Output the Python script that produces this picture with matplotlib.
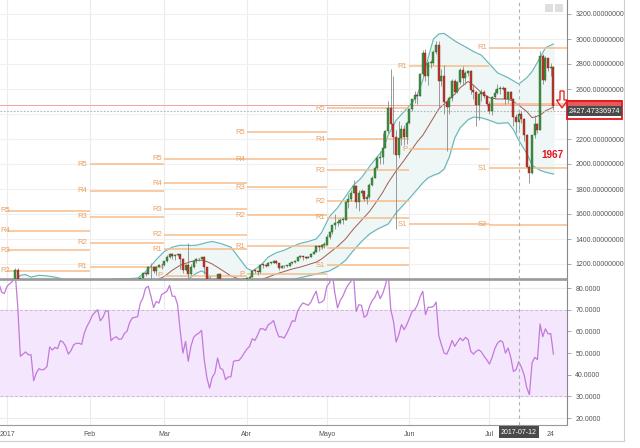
import numpy as np
import pandas as pd
import matplotlib
matplotlib.use("Agg")
import matplotlib.pyplot as plt
import matplotlib.dates as mdates
from matplotlib.patches import Rectangle, Polygon
from matplotlib.lines import Line2D

plt.rcParams['font.family'] = ['Liberation Sans', 'DejaVu Sans']

# daily candles, first one is 2017-01-01
opens = [964, 998, 1021, 1043, 1154, 1013, 902, 908, 911, 902,
         907, 785, 812, 826, 818, 822, 831, 907, 862, 899,
         895, 921, 925, 921, 892, 895, 918, 919, 921, 914,
         920, 970, 989, 1011, 1029, 1045, 1015, 1024, 1052, 1054,
         978, 996, 1008, 999, 996, 1010, 1010, 1036, 1054, 1055,
         1052, 1090, 1124, 1122, 1176, 1173, 1146, 1179, 1193, 1188,
         1222, 1255, 1283, 1265, 1273, 1277, 1236, 1150, 1188, 1116,
         1176, 1222, 1237, 1243, 1253, 1172, 1071, 971, 1022, 1047,
         1117, 1044, 1041, 938, 966, 964, 1043, 1046, 1039, 1036,
         1079, 1086, 1097, 1143, 1142, 1133, 1193, 1190, 1182, 1207,
         1208, 1223, 1205, 1171, 1180, 1185, 1187, 1204, 1215, 1223,
         1254, 1261, 1259, 1251, 1258, 1280, 1298, 1345, 1333, 1352,
         1354, 1418, 1452, 1508, 1526, 1526, 1555, 1555, 1697, 1720,
         1771, 1826, 1693, 1771, 1780, 1723, 1734, 1830, 1891, 1970,
         2050, 2053, 2129, 2262, 2444, 2323, 2217, 2071, 2209, 2282,
         2213, 2330, 2437, 2517, 2550, 2543, 2719, 2889, 2704, 2807,
         2808, 2895, 2950, 2662, 2703, 2499, 2456, 2529, 2664, 2575,
         2653, 2753, 2691, 2731, 2745, 2593, 2572, 2474, 2561, 2575,
         2541, 2481, 2424, 2535, 2567, 2601, 2602, 2608, 2519, 2572,
         2519, 2373, 2337, 2398, 2357, 2234, 1976, 1925, 2229, 2318,
         2274, 2860, 2673, 2849, 2768, 2775]
highs = [1001, 1031, 1044, 1165, 1170, 1046, 909, 942, 916, 911,
         918, 829, 835, 837, 826, 838, 912, 915, 904, 900,
         928, 937, 928, 924, 902, 918, 921, 922, 921, 922,
         972, 990, 1013, 1034, 1045, 1046, 1027, 1055, 1075, 1060,
         1000, 1012, 1010, 1003, 1013, 1012, 1040, 1062, 1072, 1058,
         1095, 1130, 1135, 1180, 1210, 1178, 1182, 1198, 1210, 1226,
         1272, 1290, 1285, 1278, 1282, 1280, 1245, 1200, 1370, 1200,
         1230, 1245, 1248, 1256, 1260, 1175, 1100, 1056, 1055, 1120,
         1125, 1060, 1045, 980, 1000, 1047, 1062, 1060, 1050, 1085,
         1097, 1110, 1150, 1160, 1145, 1200, 1200, 1200, 1215, 1215,
         1228, 1228, 1210, 1190, 1195, 1190, 1210, 1218, 1230, 1258,
         1268, 1265, 1265, 1262, 1285, 1310, 1350, 1355, 1356, 1372,
         1440, 1460, 1515, 1600, 1560, 1565, 1575, 1700, 1760, 1790,
         1870, 1830, 1790, 1800, 1785, 1760, 1845, 1905, 1980, 2060,
         2100, 2250, 2275, 2500, 2760, 2700, 2272, 2340, 2315, 2310,
         2340, 2450, 2520, 2580, 2560, 2730, 2910, 2920, 2820, 2830,
         2910, 2985, 2980, 2760, 2790, 2510, 2540, 2680, 2680, 2660,
         2770, 2780, 2740, 2750, 2750, 2640, 2580, 2570, 2600, 2590,
         2545, 2500, 2540, 2600, 2640, 2620, 2620, 2610, 2580, 2580,
         2530, 2400, 2420, 2420, 2370, 2240, 1990, 2235, 2390, 2330,
         2900, 2880, 2860, 2850, 2810, 2780]
lows = [956, 990, 1017, 1037, 890, 883, 826, 886, 883, 890,
        755, 744, 776, 808, 806, 818, 831, 847, 862, 880,
        895, 887, 913, 882, 886, 894, 911, 915, 910, 912,
        918, 963, 982, 1008, 1015, 1007, 1011, 1022, 1030, 940,
        955, 990, 995, 975, 993, 1003, 1009, 1034, 1052, 1040,
        1050, 1088, 1100, 1120, 1080, 1130, 1110, 1176, 1160, 1185,
        1218, 1250, 1240, 1235, 1262, 1160, 1130, 1145, 980, 1110,
        1170, 1210, 1220, 1240, 1120, 1050, 940, 970, 1015, 1045,
        1000, 1030, 930, 890, 950, 960, 1030, 1015, 1025, 1036,
        1075, 1080, 1095, 1125, 1110, 1130, 1170, 1175, 1180, 1200,
        1205, 1200, 1155, 1165, 1170, 1175, 1180, 1200, 1205, 1220,
        1245, 1230, 1240, 1245, 1255, 1278, 1298, 1300, 1320, 1330,
        1350, 1400, 1440, 1480, 1500, 1520, 1520, 1555, 1650, 1700,
        1771, 1650, 1620, 1740, 1700, 1680, 1720, 1820, 1885, 1960,
        2000, 2000, 2125, 2250, 2290, 2080, 1480, 2050, 2150, 2150,
        2160, 2320, 2420, 2490, 2480, 2540, 2710, 2660, 2630, 2770,
        2790, 2880, 2450, 2620, 2400, 2100, 2400, 2500, 2560, 2570,
        2640, 2630, 2640, 2700, 2560, 2520, 2300, 2350, 2500, 2530,
        2460, 2400, 2390, 2520, 2560, 2560, 2590, 2480, 2490, 2510,
        2300, 2250, 2280, 2330, 2180, 1975, 1845, 1920, 2210, 2250,
        2270, 2640, 2660, 2740, 2700, 2430]
closes = [998, 1021, 1043, 1154, 1013, 902, 908, 911, 902, 907,
          785, 812, 826, 818, 822, 831, 907, 862, 899, 895,
          921, 925, 921, 892, 895, 918, 919, 921, 914, 920,
          970, 989, 1011, 1029, 1045, 1015, 1024, 1052, 1054, 978,
          996, 1008, 999, 996, 1010, 1010, 1036, 1054, 1055, 1052,
          1090, 1124, 1122, 1176, 1173, 1146, 1179, 1193, 1188, 1222,
          1255, 1283, 1265, 1273, 1277, 1236, 1150, 1188, 1116, 1176,
          1222, 1237, 1243, 1253, 1172, 1071, 971, 1022, 1047, 1117,
          1044, 1041, 938, 966, 964, 1043, 1046, 1039, 1036, 1079,
          1086, 1097, 1143, 1142, 1133, 1193, 1190, 1182, 1207, 1208,
          1223, 1205, 1171, 1180, 1185, 1187, 1204, 1215, 1223, 1254,
          1261, 1259, 1251, 1258, 1280, 1298, 1345, 1333, 1352, 1354,
          1418, 1452, 1508, 1526, 1526, 1555, 1555, 1697, 1720, 1771,
          1826, 1693, 1771, 1780, 1723, 1734, 1830, 1891, 1970, 2050,
          2053, 2129, 2262, 2444, 2323, 2217, 2071, 2209, 2282, 2213,
          2330, 2437, 2517, 2550, 2543, 2719, 2889, 2704, 2807, 2808,
          2895, 2950, 2662, 2703, 2499, 2456, 2529, 2664, 2575, 2653,
          2753, 2691, 2731, 2745, 2593, 2572, 2474, 2561, 2575, 2541,
          2481, 2424, 2535, 2567, 2601, 2602, 2608, 2519, 2572, 2519,
          2373, 2337, 2398, 2357, 2234, 1976, 1925, 2229, 2318, 2274,
          2860, 2673, 2849, 2768, 2775, 2460]

# bollinger bands (day offsets from 2017-01-01)
bb_days = [-3, 0, 3, 5, 7, 9, 12, 15, 18, 20, 22, 25, 28, 31, 34, 37, 40, 43, 46, 49,
           51, 53, 56, 59, 62, 65, 67, 69, 71, 73, 75, 77, 80, 84, 87, 90, 92, 95, 98, 101,
           104, 107, 110, 113, 116, 118, 121, 124, 127, 130, 133, 136, 139, 141, 143, 146, 149, 152, 154, 156,
           158, 160, 162, 164, 166, 168, 170, 173, 175, 178, 181, 184, 188, 190, 192, 195, 197, 200, 202, 205]
bb_upper = [1000, 1020, 1070, 1110, 1115, 1095, 1110, 1105, 1095, 1085, 1060, 1020, 990, 995, 1040, 1070, 1080, 1082, 1083, 1088,
            1120, 1160, 1235, 1300, 1335, 1350, 1350, 1348, 1350, 1360, 1372, 1380, 1365, 1335, 1250, 1165, 1145, 1185, 1255, 1290,
            1310, 1340, 1365, 1380, 1400, 1450, 1580, 1650, 1740, 1830, 1890, 1980, 2060, 2110, 2230, 2350, 2420, 2490, 2560, 2670,
            2850, 3000, 3040, 3045, 3015, 2985, 2960, 2925, 2900, 2870, 2800, 2730, 2690, 2665, 2640, 2690, 2740, 2850, 2930, 2960]
bb_mid = [870, 885, 900, 915, 920, 925, 925, 915, 905, 900, 895, 890, 890, 900, 920, 945, 965, 985, 1005, 1025,
          1040, 1055, 1070, 1100, 1150, 1190, 1205, 1220, 1228, 1230, 1219, 1200, 1160, 1105, 1080, 1065, 1065, 1072, 1095, 1120,
          1140, 1160, 1175, 1195, 1215, 1240, 1290, 1340, 1400, 1480, 1550, 1620, 1710, 1775, 1850, 1945, 2030, 2120, 2180, 2230,
          2300, 2370, 2440, 2480, 2520, 2560, 2610, 2660, 2630, 2570, 2530, 2520, 2520, 2500, 2470, 2420, 2370, 2390, 2425, 2455]
bb_lower = [760, 770, 750, 720, 720, 740, 740, 730, 720, 715, 730, 760, 790, 805, 800, 820, 850, 890, 925, 960,
            960, 950, 905, 900, 960, 1030, 1060, 1095, 1125, 1145, 1120, 1040, 950, 875, 905, 960, 985, 960, 935, 1000,
            1040, 1075, 1090, 1105, 1120, 1130, 1145, 1180, 1230, 1310, 1380, 1440, 1480, 1500, 1520, 1610, 1680, 1750, 1800, 1850,
            1890, 1910, 1925, 1960, 2060, 2210, 2290, 2355, 2375, 2370, 2350, 2325, 2330, 2275, 2190, 2085, 1990, 1950, 1935, 1920]

# RSI(14), daily from 2016-12-29
rsi = [82, 78, 77.5, 80.8, 82, 83, 88, 72, 48.5, 49.5,
       50.5, 49.2, 49.2, 37.2, 40.8, 42.8, 42.2, 42.5, 43.8, 52.8,
       51.4, 52.6, 52, 55.7, 55.1, 53.1, 49.5, 51.1, 53.8, 54.5,
       54.5, 54, 59.2, 62.3, 64.6, 67.4, 68.8, 70, 64.9, 66.5,
       69.5, 69.2, 55.7, 56.9, 57.5, 56.3, 56.5, 59, 60, 64,
       66.2, 66.5, 66.8, 73, 75.4, 80, 80.8, 76.2, 71, 73.8,
       73, 77, 77.7, 78.5, 81.2, 76.2, 76.2, 72.3, 60, 50,
       55.4, 46.2, 53.1, 57.2, 58.5, 59.2, 60.5, 46.9, 38.5, 33.8,
       38.8, 40.8, 47.7, 43, 42.3, 37.7, 39, 39, 46.2, 46.5,
       46.6, 48, 50, 51.8, 53.1, 56.6, 55.8, 58.2, 61.2, 61.2,
       60.5, 63, 63.8, 65, 60.8, 57.5, 57.5, 56.9, 59.2, 61.8,
       64.9, 64.6, 69.2, 71.5, 73.1, 72.6, 72, 73.5, 76.2, 78.5,
       73.1, 73.5, 74.6, 80.8, 82.3, 87, 77.7, 70.8, 74.2, 76.2,
       79.2, 81.5, 83, 86, 69.2, 72.3, 72, 66.5, 67.4, 71.5,
       74.2, 75.7, 78.8, 75.1, 77.5, 81.5, 87, 70, 64.6, 55.1,
       58.5, 63.1, 60.8, 63.1, 66.2, 69.2, 70, 72.3, 76, 78.5,
       67.7, 71.1, 71.1, 71.5, 73.5, 58, 53.8, 50, 49.5, 52.3,
       55.8, 53.1, 55.1, 56.9, 55.7, 57.2, 56.2, 50.8, 49.5, 50.8,
       51.5, 50.5, 48.5, 46.9, 44.9, 48, 52, 54.5, 55.7, 55.1,
       50, 52.3, 48, 41.5, 42.3, 46, 43.4, 40, 34, 30.8,
       45.5, 48, 47, 63.4, 57.5, 61.2, 58.8, 59, 49.5]

# monthly pivot levels
pivots = {
    '2017-01-01': [('R5', 1624), ('R4', 1466), ('R3', 1312), ('R2', 1146)],
    '2017-02-01': [('R5', 1997), ('R4', 1786), ('R3', 1578), ('R2', 1370), ('R1', 1178)],
    '2017-03-01': [('R5', 2042), ('R4', 1846), ('R3', 1638), ('R2', 1432), ('R1', 1318), ('P', 1107)],
    '2017-04-01': [('R5', 2256), ('R4', 2038), ('R3', 1814), ('R2', 1590), ('R1', 1344), ('P', 1120)],
    '2017-05-01': [('R5', 2444), ('R4', 2198), ('R3', 1950), ('R2', 1702), ('R1', 1570), ('P', 1326), ('S1', 1190)],
    '2017-06-01': [('R1', 2784), ('P', 2117), ('S1', 1520)],
    '2017-07-01': [('R1', 2930), ('', 2476), ('S1', 1966), ('S2', 1512)],
}

month_labels = ['2017', 'Feb', 'Mar', 'Abr', 'Mayo', 'Jun', 'Jul', '24']
month_ticks = ['2017-01-01', '2017-02-01', '2017-03-01', '2017-04-01', '2017-05-01',
               '2017-06-01', '2017-07-01', '2017-07-24']
price_ticks = list(range(1200, 3201, 200))
rsi_ticks = [20, 30, 40, 50, 60, 70, 80]
last_price = 2427.47336974
line_price = 2472

W, H = 640, 448
def box(l, t, r, b):
    return [l / W, 1 - b / H, (r - l) / W, (b - t) / H]

fig = plt.figure(figsize=(6.4, 4.48), dpi=100)
ax = fig.add_axes(box(0, 0, 567, 279))
ax2 = fig.add_axes(box(0, 280, 567, 425))

t0 = mdates.date2num(pd.Timestamp('2017-01-01'))
xlim = (t0 - 2.63, t0 + 210.1)

x = mdates.date2num(pd.date_range('2017-01-01', periods=len(closes), freq='D'))
o, h, l, c = (np.array(v, float) for v in (opens, highs, lows, closes))
up = c >= o

# grid
mt = mdates.date2num(pd.to_datetime(month_ticks))
for a in (ax, ax2):
    for m in mt[:-1]:
        a.axvline(m, color='#ececec', lw=0.8, zorder=0)
for p in price_ticks:
    ax.axhline(p, color='#f0f0f0', lw=0.8, zorder=0)
for r in [20, 40, 50, 60, 80]:
    ax2.axhline(r, color='#ececec', lw=0.8, zorder=0)

# bollinger
bx = t0 + np.array(bb_days)
ax.fill_between(bx, bb_lower, bb_upper, color='#eef6f6', zorder=1)
ax.plot(bx, bb_upper, color='#63b5b8', lw=0.8, zorder=2)
ax.plot(bx, bb_lower, color='#63b5b8', lw=0.8, zorder=2)
ax.plot(bx, bb_mid, color='#a55a50', lw=0.7, zorder=2)

# pivots
month_edges = list(mdates.date2num(pd.to_datetime(list(pivots.keys())))) + [xlim[1]]
for i, (k, levels) in enumerate(pivots.items()):
    a0, a1 = month_edges[i], month_edges[i + 1]
    for name, val in levels:
        ax.hlines(val, a0, a1, color='#f5bd8c', lw=1.1, zorder=2)
        if not name:
            continue
        if i == 0:
            # no room left of January, keep the label inside the plot
            ax.text(xlim[0] + 0.15, val, name, ha='left', va='center', fontsize=5.5,
                    color='#e9a060', zorder=2)
        else:
            ax.text(a0 - 0.8, val, name, ha='right', va='center', fontsize=5.5,
                    color='#e9a060', zorder=2)

ax.axhline(line_price, color='#f2a5a5', lw=0.7, zorder=2)
ax.axhline(last_price, color='#b5b5b5', lw=0.8, ls=(0, (1.5, 1.5)), zorder=2)

# candles
ax.vlines(x, l, h, color='#8a8a8a', lw=0.6, zorder=3)
ax.bar(x[up], np.maximum((c - o)[up], 6), bottom=o[up], width=0.75,
       color='#3f8f3f', edgecolor='#2c6b2c', lw=0.3, zorder=4)
ax.bar(x[~up], np.maximum((o - c)[~up], 6), bottom=c[~up], width=0.75,
       color='#b8372c', edgecolor='#8a2a20', lw=0.3, zorder=4)

ax.set_xlim(xlim)
ax.set_ylim(1080, 3312)

# rsi
rx = t0 - 3 + np.arange(len(rsi))
ax2.axhspan(30, 70, color='#f4e6fd', zorder=0.5)
ax2.axhline(70, color='#cdb6da', lw=0.7, ls=(0, (3, 2)), zorder=1)
ax2.axhline(30, color='#cdb6da', lw=0.7, ls=(0, (3, 2)), zorder=1)
ax2.plot(rx, rsi, color='#c27ad9', lw=0.9, zorder=3)
ax2.set_xlim(xlim)
ax2.set_ylim(16.8, 83.7)

cross = t0 + 192
for a in (ax, ax2):
    a.axvline(cross, color='#b0b0b0', lw=0.8, ls=(0, (3, 3)), zorder=5)

# axes cosmetics
for a in (ax, ax2):
    for s in ('left', 'top'):
        a.spines[s].set_visible(False)
    a.spines['right'].set_color('#888888')
    a.spines['bottom'].set_color('#999999')
    a.yaxis.tick_right()
    a.tick_params(axis='y', length=3, width=0.6, color='#999999', pad=3,
                  labelsize=5, labelcolor='#555555')
ax2.spines['top'].set_visible(True)
ax2.spines['top'].set_color('#999999')
ax2.spines['top'].set_linewidth(1.2)
ax.spines['bottom'].set_linewidth(1.2)

# the 2400 label sits under the price boxes, so it is left blank
ax.set_yticks(price_ticks)
ax.set_yticklabels(['' if p == 2400 else f'{p:.8f}' for p in price_ticks])
ax.set_xticks([])
ax2.set_yticks(rsi_ticks)
ax2.set_yticklabels([f'{r:.4f}' for r in rsi_ticks])
ax2.set_xticks(mt)
ax2.set_xticklabels(month_labels)
ax2.tick_params(axis='x', length=0, pad=4, labelsize=5, labelcolor='#555555')

# crosshair date box
fig.text(519 / W, 1 - 432 / H, '2017-07-12', ha='center', va='center', fontsize=5,
         color='white', bbox=dict(boxstyle='square,pad=0.3', fc='#4a4a4a', ec='none'))

# price labels on the axis
fig.add_artist(Rectangle((568 / W, 1 - 108 / H), 54 / W, 8 / H, transform=fig.transFigure,
                         fc='#e35b5b', ec='none'))
fig.text(594.5 / W, 1 - 111 / H, '2427.47336974', ha='center', va='center', fontsize=5.3,
         color='white', bbox=dict(boxstyle='square,pad=0.25', fc='#4a4a4a', ec='none'))
fig.add_artist(Rectangle((566.5 / W, 1 - 118.5 / H), 55.5 / W, 17 / H, transform=fig.transFigure,
                         fill=False, ec='#e8141c', lw=1.3))

# hollow red arrow
arrow = [(560, 91), (564, 91), (564, 100), (567.5, 100), (562, 108), (556.5, 100), (560, 100)]
fig.add_artist(Polygon([(px / W, 1 - py / H) for px, py in arrow], closed=True, fill=False,
                       ec='#e8141c', lw=0.9, transform=fig.transFigure))
fig.text(552 / W, 1 - 155.5 / H, '1967', ha='center', va='center', fontsize=7.2,
         fontweight='bold', color='#e8141c')

# small toolbar buttons
for bx0 in (545, 555):
    fig.add_artist(Rectangle((bx0 / W, 1 - 12 / H), 8 / W, 8 / H, transform=fig.transFigure,
                             fc='#dedede', ec='none'))

# outer frame
fig.add_artist(Line2D([624 / W, 624 / W], [1 - 441 / H, 1], transform=fig.transFigure,
                      color='#cfcfcf', lw=0.8))
fig.add_artist(Line2D([0, 624 / W], [1 - 441 / H, 1 - 441 / H], transform=fig.transFigure,
                      color='#cfcfcf', lw=0.8))

fig.savefig('out.png', dpi=100)
